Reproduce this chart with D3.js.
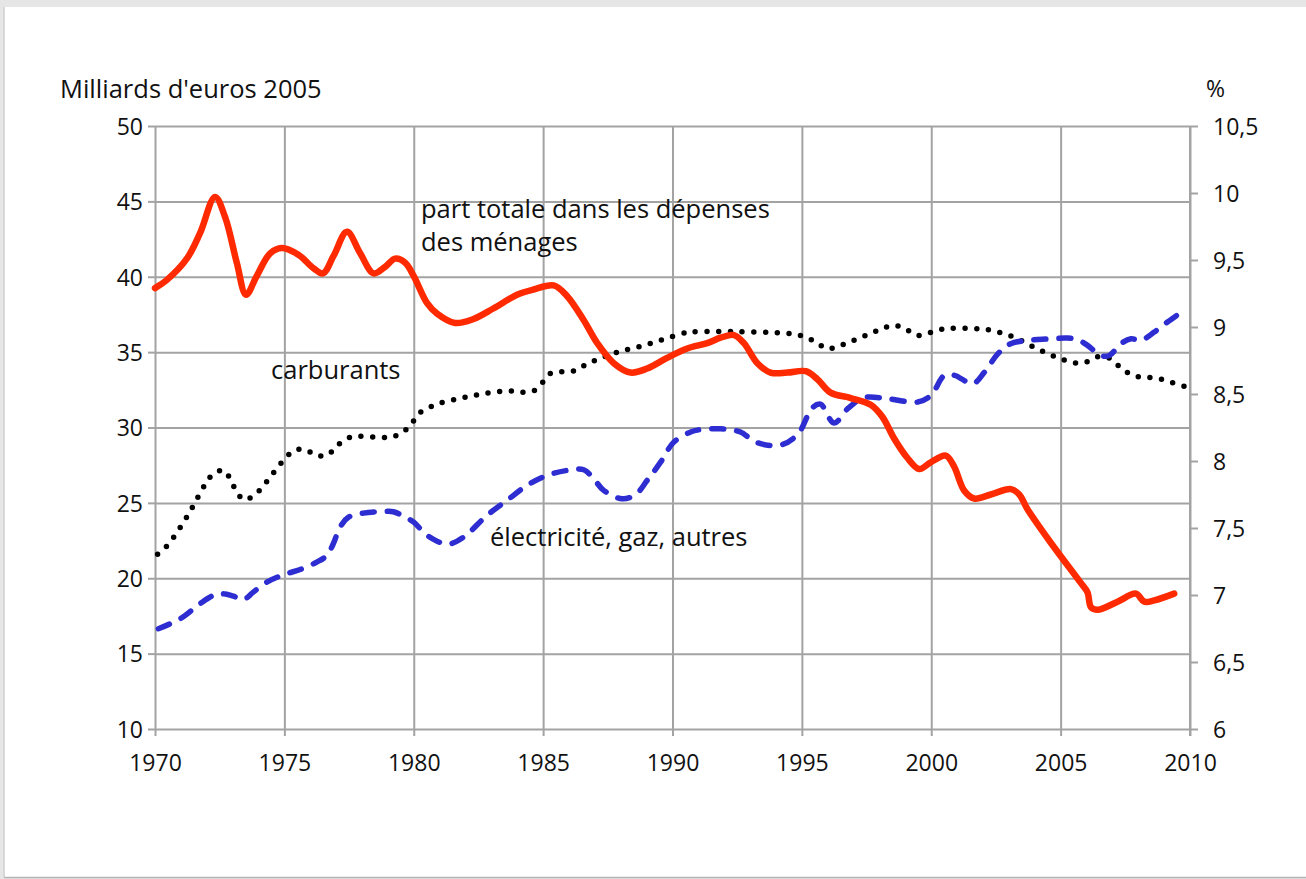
<!DOCTYPE html>
<html>
<head>
<meta charset="utf-8">
<script src="https://cdn.jsdelivr.net/npm/d3@7"></script>
<style>
  body { margin: 0; background: #e6e6e6; }
  svg { display: block; }
</style>
</head>
<body>
<div id="chart"></div>
<script>

// tick labels
const yearTicks = [1970, 1975, 1980, 1985, 1990, 1995, 2000, 2005, 2010]
const leftTicks = [10, 15, 20, 25, 30, 35, 40, 45, 50]
const rightTicks = [6, 6.5, 7, 7.5, 8, 8.5, 9, 9.5, 10, 10.5]

// carburants, milliards d'euros 2005 (left axis) - [year, value]
const carburants = [
    [1970.1, 21.6], [1970.51, 22.24], [1971.28, 24.21], [1971.97, 26.31], [1972.26, 26.93],
    [1972.65, 27.15], [1972.93, 26.51], [1973.13, 25.81], [1973.44, 25.21], [1973.84, 25.51],
    [1974.17, 26.09], [1974.45, 26.71], [1975.03, 27.95], [1975.38, 28.48], [1975.81, 28.53],
    [1976.23, 28.15], [1976.67, 28.17], [1977.0, 28.73], [1977.41, 29.26], [1977.79, 29.41],
    [1978.7, 29.34], [1979.17, 29.39], [1979.59, 29.7], [1979.93, 30.29], [1980.19, 30.92],
    [1980.6, 31.33], [1981.03, 31.62], [1981.93, 31.98], [1982.83, 32.28], [1983.76, 32.42],
    [1984.22, 32.33], [1984.67, 32.46], [1984.99, 33.01], [1985.3, 33.61], [1986.17, 33.74],
    [1986.6, 34.12], [1987.02, 34.45], [1987.88, 35.0], [1988.79, 35.4], [1989.69, 35.87],
    [1990.57, 36.31], [1991.03, 36.36], [1992.5, 36.36], [1994.27, 36.27], [1994.75, 36.18],
    [1995.18, 35.98], [1995.59, 35.6], [1995.98, 35.22], [1996.42, 35.4], [1996.84, 35.67],
    [1997.3, 36.0], [1997.73, 36.29], [1998.15, 36.6], [1998.59, 36.78], [1999.03, 36.51],
    [1999.45, 36.11], [1999.89, 36.26], [2000.33, 36.49], [2000.79, 36.58], [2001.72, 36.56],
    [2002.18, 36.49], [2002.63, 36.31], [2003.05, 36.09], [2003.47, 35.78], [2003.89, 35.4],
    [2004.32, 35.05], [2004.76, 34.72], [2005.18, 34.45], [2005.63, 34.27], [2006.08, 34.39],
    [2006.5, 34.72], [2006.92, 34.57], [2007.27, 34.05], [2007.66, 33.57], [2008.08, 33.34],
    [2008.53, 33.3], [2008.98, 33.17], [2009.43, 32.91], [2009.88, 32.68]
]

// électricité, gaz, autres, milliards d'euros 2005 (left axis)
const electricite = [
    [1970.13, 16.65], [1970.97, 17.31], [1971.74, 18.31], [1972.26, 18.86], [1972.65, 18.97],
    [1973.03, 18.81], [1973.42, 18.59], [1973.8, 19.08], [1974.32, 19.74], [1975.0, 20.25],
    [1975.61, 20.58], [1976.25, 21.07], [1976.64, 21.51], [1976.89, 22.29], [1977.15, 23.39],
    [1977.48, 24.05], [1978.05, 24.32], [1978.83, 24.43], [1979.21, 24.41], [1979.67, 24.05],
    [1980.0, 23.72], [1980.44, 22.95], [1980.9, 22.46], [1981.35, 22.26], [1981.93, 22.73],
    [1982.83, 24.17], [1983.6, 25.16], [1984.38, 26.16], [1985.15, 26.82], [1985.92, 27.15],
    [1986.57, 27.2], [1986.95, 26.6], [1987.34, 25.83], [1988.05, 25.27], [1988.57, 25.54],
    [1989.02, 26.49], [1989.54, 27.7], [1990.05, 29.03], [1990.7, 29.7], [1991.08, 29.86],
    [1991.86, 29.92], [1992.37, 29.81], [1992.63, 29.7], [1993.3, 28.98], [1994.18, 28.84],
    [1994.85, 29.57], [1995.4, 31.3], [1995.72, 31.55], [1996.24, 30.3], [1996.8, 31.3],
    [1997.41, 31.98], [1998.32, 31.91], [1999.48, 31.69], [1999.99, 32.13], [2000.51, 33.46],
    [2000.9, 33.46], [2001.61, 32.91], [2002.06, 33.68], [2002.58, 34.9], [2003.07, 35.56],
    [2003.72, 35.78], [2004.49, 35.87], [2005.27, 35.93], [2005.65, 35.83], [2006.04, 35.45],
    [2006.55, 34.78], [2006.88, 34.78], [2007.33, 35.56], [2007.72, 35.89], [2008.1, 35.78],
    [2008.62, 36.33], [2009.13, 37.0], [2009.62, 37.59]
]

// part totale dans les dépenses des ménages, % (right axis)
const partTotale = [
    [1970, 9.29], [1970.45, 9.35], [1971.23, 9.51], [1971.74, 9.7], [1972.32, 9.97],
    [1972.71, 9.82], [1973.16, 9.48], [1973.52, 9.24], [1973.93, 9.38], [1974.45, 9.55],
    [1974.9, 9.59], [1975.54, 9.54], [1976.12, 9.44], [1976.49, 9.4], [1976.9, 9.53],
    [1977.42, 9.71], [1977.93, 9.55], [1978.45, 9.4], [1978.9, 9.45], [1979.28, 9.51],
    [1979.67, 9.48], [1980.0, 9.38], [1980.51, 9.18], [1980.9, 9.1], [1981.6, 9.03],
    [1982.31, 9.06], [1983.09, 9.14], [1983.99, 9.24], [1984.63, 9.28], [1985.41, 9.31],
    [1985.93, 9.23], [1986.57, 9.05], [1987.09, 8.88], [1987.73, 8.73], [1988.38, 8.66],
    [1989.02, 8.69], [1989.79, 8.77], [1990.57, 8.84], [1991.34, 8.88], [1991.86, 8.92],
    [1992.37, 8.94], [1992.76, 8.88], [1993.28, 8.73], [1993.79, 8.66], [1994.44, 8.66],
    [1995.15, 8.67], [1995.6, 8.61], [1996.11, 8.51], [1996.89, 8.47], [1997.66, 8.42],
    [1998.11, 8.33], [1998.56, 8.17], [1999.05, 8.03], [1999.53, 7.94], [1999.98, 7.99],
    [2000.56, 8.04], [2000.88, 7.96], [2001.27, 7.78], [2001.66, 7.72], [2002.3, 7.75],
    [2003.08, 7.79], [2003.4, 7.75], [2003.72, 7.64], [2004.62, 7.39], [2005.78, 7.09],
    [2006.04, 7.02], [2006.17, 6.91], [2006.43, 6.89], [2007.2, 6.95], [2007.91, 7.01],
    [2008.23, 6.95], [2008.62, 6.96], [2009.39, 7.01]
]

const width = 1306
const height = 879
const plotLeft = 155
const plotRight = 1190
const plotTop = 126
const plotBottom = 729

const font = "'Open Sans', 'Noto Sans', sans-serif"
const tickFontSize = 23
const labelFontSize = 25.5
const gridColor = "#a3a3a3"

var svg = d3.select("#chart").append("svg")
    .attr("width", width)
    .attr("height", height)
    .style("font-family", font)

// page card
svg.append("rect")
    .attr("x", 4)
    .attr("y", 7)
    .attr("width", width - 4)
    .attr("height", 870)
    .style("fill", "white")
svg.append("line")
    .attr("x1", 4).attr("x2", 4)
    .attr("y1", 7).attr("y2", 877)
    .style("stroke", "#cfcfcf")
    .style("stroke-width", 1.5)
svg.append("line")
    .attr("x1", 4).attr("x2", width)
    .attr("y1", 877.5).attr("y2", 877.5)
    .style("stroke", "#b5b5b5")
    .style("stroke-width", 1.5)

const x = d3.scaleLinear().domain([1970, 2010]).range([plotLeft, plotRight])
const yLeft = d3.scaleLinear().domain([10, 50]).range([plotBottom, plotTop])
const yRight = d3.scaleLinear().domain([6, 10.5]).range([plotBottom, plotTop])

function styleAxis(g) {
    g.selectAll(".domain").remove()
    g.selectAll("line").style("stroke", gridColor).style("stroke-width", 2)
    g.selectAll("text")
        .style("font-family", font)
        .style("font-size", tickFontSize + "px")
        .style("fill", "#111")
}

// horizontal gridlines + left ticks
svg.append("g")
    .attr("transform", "translate(" + plotLeft + ",0)")
    .call(d3.axisLeft(yLeft).tickValues(leftTicks).tickSize(-(plotRight - plotLeft)).tickFormat(""))
    .call(styleAxis)
svg.append("g")
    .attr("transform", "translate(" + plotLeft + ",0)")
    .call(d3.axisLeft(yLeft).tickValues(leftTicks).tickSize(7).tickPadding(5).tickFormat(d3.format("d")))
    .call(styleAxis)
    .selectAll("text").attr("dy", "0.36em")

// vertical gridlines + year ticks
svg.append("g")
    .attr("transform", "translate(0," + plotBottom + ")")
    .call(d3.axisBottom(x).tickValues(yearTicks).tickSize(-(plotBottom - plotTop)).tickFormat(""))
    .call(styleAxis)
svg.append("g")
    .attr("transform", "translate(0," + plotBottom + ")")
    .call(d3.axisBottom(x).tickValues(yearTicks).tickSize(7).tickPadding(19).tickFormat(d3.format("d")))
    .call(styleAxis)

// right axis in %
const rightAxis = svg.append("g")
    .attr("transform", "translate(" + plotRight + ",0)")
    .call(d3.axisRight(yRight).tickValues(rightTicks).tickSize(8).tickPadding(15)
        .tickFormat(d => String(d).replace(".", ",")))
    .call(styleAxis)
rightAxis.selectAll("text").attr("dy", "0.36em")
rightAxis.append("line")
    .attr("y1", plotTop).attr("y2", plotBottom + 7)
    .style("stroke", gridColor)
    .style("stroke-width", 2)

// series
const lineLeft = d3.line()
    .x(d => x(d[0]))
    .y(d => yLeft(d[1]))
    .curve(d3.curveCatmullRom.alpha(0.5))

const lineRight = d3.line()
    .x(d => x(d[0]))
    .y(d => yRight(d[1]))
    .curve(d3.curveCatmullRom.alpha(0.5))

svg.append("path")
    .datum(carburants)
    .attr("d", lineLeft)
    .style("fill", "none")
    .style("stroke", "black")
    .style("stroke-width", 5.5)
    .style("stroke-linecap", "round")
    .style("stroke-dasharray", "0,11.7")

svg.append("path")
    .datum(electricite)
    .attr("d", lineLeft)
    .style("fill", "none")
    .style("stroke", "#2d2dd2")
    .style("stroke-width", 5.5)
    .style("stroke-linecap", "round")
    .style("stroke-dasharray", "12,13")

svg.append("path")
    .datum(partTotale)
    .attr("d", lineRight)
    .style("fill", "none")
    .style("stroke", "#ff2a00")
    .style("stroke-width", 6.5)
    .style("stroke-linecap", "round")
    .style("stroke-linejoin", "round")

// texts
function label(tx, ty, str, size) {
    svg.append("text")
        .attr("x", tx)
        .attr("y", ty)
        .style("font-size", (size || labelFontSize) + "px")
        .style("fill", "#111")
        .text(str)
}

label(60, 98, "Milliards d'euros 2005")
label(1206, 97, "%", tickFontSize)
label(421, 218, "part totale dans les dépenses")
label(421, 251, "des ménages")
label(271, 379, "carburants")
label(490, 546, "électricité, gaz, autres")

</script>
</body>
</html>
